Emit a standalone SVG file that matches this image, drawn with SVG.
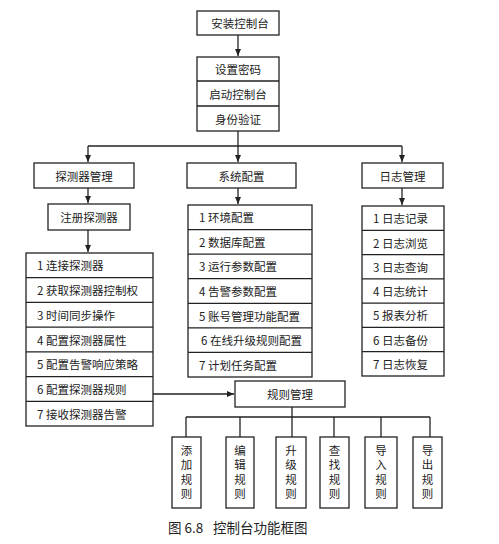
<svg xmlns="http://www.w3.org/2000/svg" width="499" height="544" viewBox="0 0 499 544">
<defs>
<style>
.box{fill:#fff;stroke:#222;stroke-width:1.3}
.ln{fill:none;stroke:#222;stroke-width:1.3}
.t{font-family:"Noto Sans CJK SC","Liberation Serif",sans-serif;font-size:11.5px;fill:#222;dominant-baseline:central}
.c{text-anchor:middle}
.v{font-family:"Noto Sans CJK SC","Liberation Serif",sans-serif;font-size:11.5px;fill:#222;writing-mode:vertical-rl;text-anchor:middle;letter-spacing:2.8px}
.cap{font-family:"Noto Sans CJK SC","Liberation Sans",sans-serif;font-size:13.5px;fill:#222}
</style>
<marker id="ah" markerUnits="userSpaceOnUse" markerWidth="8" markerHeight="6" refX="7" refY="3" orient="auto">
<path d="M0,0 L7,3 L0,6 Z" fill="#222"/>
</marker>
</defs>
<rect width="499" height="544" fill="#fff"/>

<g id="connectors">
<line class="ln" x1="238" y1="35" x2="238" y2="56" marker-end="url(#ah)"/>
<polyline class="ln" points="238,131 238,146"/>
<line class="ln" x1="88" y1="146" x2="402" y2="146"/>
<line class="ln" x1="88" y1="146" x2="88" y2="162" marker-end="url(#ah)"/>
<line class="ln" x1="238" y1="146" x2="238" y2="162" marker-end="url(#ah)"/>
<line class="ln" x1="402" y1="146" x2="402" y2="162" marker-end="url(#ah)"/>
<line class="ln" x1="88" y1="188" x2="88" y2="203" marker-end="url(#ah)"/>
<line class="ln" x1="88" y1="230" x2="88" y2="252" marker-end="url(#ah)"/>
<line class="ln" x1="238" y1="188" x2="238" y2="204" marker-end="url(#ah)"/>
<line class="ln" x1="402" y1="188" x2="402" y2="205" marker-end="url(#ah)"/>
<line class="ln" x1="153" y1="394" x2="234" y2="394" marker-end="url(#ah)"/>
<line class="ln" x1="292" y1="407" x2="292" y2="417"/>
<line class="ln" x1="186" y1="417" x2="430" y2="417"/>
<line class="ln" x1="186" y1="417" x2="186" y2="437"/>
<line class="ln" x1="240" y1="417" x2="240" y2="437"/>
<line class="ln" x1="292" y1="417" x2="292" y2="437"/>
<line class="ln" x1="334" y1="417" x2="334" y2="437"/>
<line class="ln" x1="381" y1="417" x2="381" y2="437"/>
<line class="ln" x1="430" y1="417" x2="430" y2="437"/>
</g>

<g id="install">
<rect class="box" x="197" y="11" width="82" height="24"/>
<text class="t c" x="240" y="23">安装控制台</text>
</g>

<g id="startup">
<rect class="box" x="197" y="57" width="82" height="74"/>
<line class="ln" x1="197" y1="81" x2="279" y2="81"/>
<line class="ln" x1="197" y1="106" x2="279" y2="106"/>
<text class="t c" x="238" y="69">设置密码</text>
<text class="t c" x="238" y="93.5">启动控制台</text>
<text class="t c" x="238" y="118.5">身份验证</text>
</g>

<g id="probe-mgmt">
<rect class="box" x="34" y="163" width="100" height="25"/>
<text class="t c" x="84" y="175.5">探测器管理</text>
</g>

<g id="sys-config">
<rect class="box" x="187" y="163" width="109" height="25"/>
<text class="t c" x="241.5" y="175.5">系统配置</text>
</g>

<g id="log-mgmt">
<rect class="box" x="362" y="163" width="81" height="25"/>
<text class="t c" x="402.5" y="175.5">日志管理</text>
</g>

<g id="register-probe">
<rect class="box" x="48" y="204" width="82" height="26"/>
<text class="t c" x="89" y="217">注册探测器</text>
</g>

<g id="probe-list">
<rect class="box" x="26" y="253" width="127" height="173"/>
<line class="ln" x1="26" y1="277.7" x2="153" y2="277.7"/>
<line class="ln" x1="26" y1="302.4" x2="153" y2="302.4"/>
<line class="ln" x1="26" y1="327.1" x2="153" y2="327.1"/>
<line class="ln" x1="26" y1="351.9" x2="153" y2="351.9"/>
<line class="ln" x1="26" y1="376.6" x2="153" y2="376.6"/>
<line class="ln" x1="26" y1="401.3" x2="153" y2="401.3"/>
<text class="t" x="37" y="265.4">1  连接探测器</text>
<text class="t" x="37" y="290">2  获取探测器控制权</text>
<text class="t" x="37" y="314.8">3  时间同步操作</text>
<text class="t" x="37" y="339.5">4  配置探测器属性</text>
<text class="t" x="37" y="364.2">5  配置告警响应策略</text>
<text class="t" x="37" y="389">6  配置探测器规则</text>
<text class="t" x="37" y="413.7">7  接收探测器告警</text>
</g>

<g id="sys-list">
<rect class="box" x="188" y="205" width="124" height="172"/>
<line class="ln" x1="188" y1="229.6" x2="312" y2="229.6"/>
<line class="ln" x1="188" y1="254.1" x2="312" y2="254.1"/>
<line class="ln" x1="188" y1="278.7" x2="312" y2="278.7"/>
<line class="ln" x1="188" y1="303.3" x2="312" y2="303.3"/>
<line class="ln" x1="188" y1="327.9" x2="312" y2="327.9"/>
<line class="ln" x1="188" y1="352.4" x2="312" y2="352.4"/>
<text class="t" x="199" y="217.3">1  环境配置</text>
<text class="t" x="199" y="241.9">2  数据库配置</text>
<text class="t" x="199" y="266.4">3  运行参数配置</text>
<text class="t" x="199" y="291">4  告警参数配置</text>
<text class="t" x="199" y="315.6">5  账号管理功能配置</text>
<text class="t" x="201" y="340.1">6  在线升级规则配置</text>
<text class="t" x="199" y="364.7">7  计划任务配置</text>
</g>

<g id="log-list">
<rect class="box" x="362" y="206" width="82" height="170"/>
<line class="ln" x1="362" y1="230.3" x2="444" y2="230.3"/>
<line class="ln" x1="362" y1="254.6" x2="444" y2="254.6"/>
<line class="ln" x1="362" y1="278.9" x2="444" y2="278.9"/>
<line class="ln" x1="362" y1="303.1" x2="444" y2="303.1"/>
<line class="ln" x1="362" y1="327.4" x2="444" y2="327.4"/>
<line class="ln" x1="362" y1="351.7" x2="444" y2="351.7"/>
<text class="t" x="373" y="218.2">1  日志记录</text>
<text class="t" x="373" y="242.5">2  日志浏览</text>
<text class="t" x="373" y="266.8">3  日志查询</text>
<text class="t" x="373" y="291">4  日志统计</text>
<text class="t" x="373" y="315.3">5  报表分析</text>
<text class="t" x="373" y="339.6">6  日志备份</text>
<text class="t" x="373" y="363.9">7  日志恢复</text>
</g>

<g id="rule-mgmt">
<rect class="box" x="235" y="381" width="110" height="26"/>
<text class="t c" x="290" y="394">规则管理</text>
</g>

<g id="rule-add">
<rect class="box" x="172" y="437" width="29" height="71"/>
<text class="v" x="186.5" y="473.5">添加规则</text>
</g>
<g id="rule-edit">
<rect class="box" x="226" y="437" width="28" height="71"/>
<text class="v" x="240" y="473.5">编辑规则</text>
</g>
<g id="rule-upgrade">
<rect class="box" x="276" y="437" width="30" height="71"/>
<text class="v" x="291" y="473.5">升级规则</text>
</g>
<g id="rule-find">
<rect class="box" x="320" y="437" width="29" height="71"/>
<text class="v" x="334.5" y="473.5">查找规则</text>
</g>
<g id="rule-import">
<rect class="box" x="365" y="437" width="32" height="71"/>
<text class="v" x="381" y="473.5">导入规则</text>
</g>
<g id="rule-export">
<rect class="box" x="413" y="437" width="29" height="71"/>
<text class="v" x="427.5" y="473.5">导出规则</text>
</g>

<g id="caption">
<text class="cap" x="168" y="533">图 6.8</text>
<text class="cap" x="213" y="533">控制台功能框图</text>
</g>
</svg>
